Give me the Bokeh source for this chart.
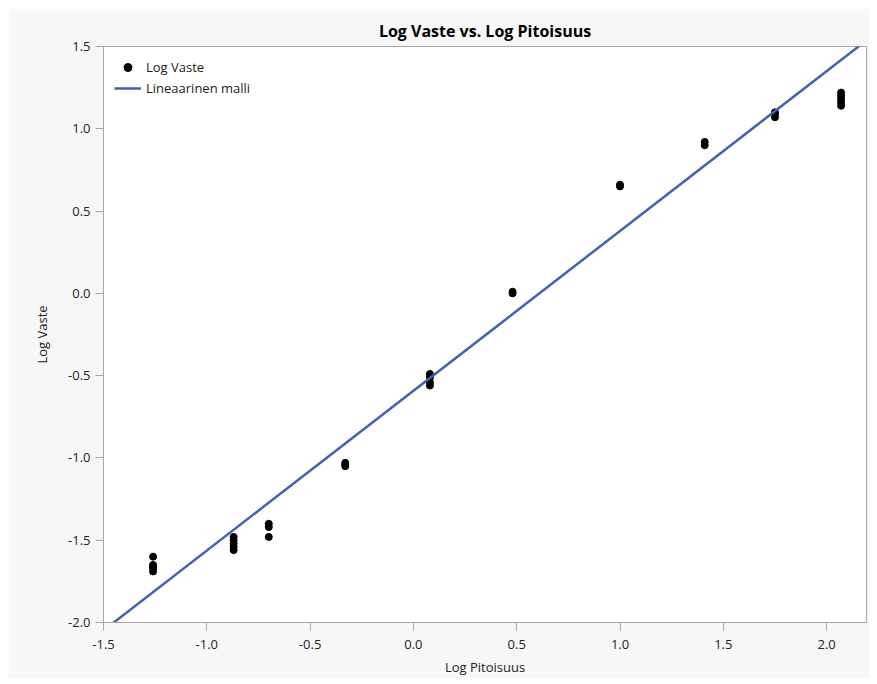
from bokeh.plotting import figure
from bokeh.models import Range1d, FixedTicker, Legend, PrintfTickFormatter
from bokeh.embed import file_html
from bokeh.resources import INLINE

# Data
log_pitoisuus = [-1.26, -1.26, -1.26, -1.26, -1.26,
                 -0.87, -0.87, -0.87, -0.87, -0.87,
                 -0.70, -0.70, -0.70,
                 -0.33, -0.33, -0.33,
                 0.08, 0.08, 0.08, 0.08,
                 0.48, 0.48,
                 1.00, 1.00,
                 1.41, 1.41,
                 1.75, 1.75, 1.75,
                 2.07, 2.07, 2.07, 2.07, 2.07]
log_vaste = [-1.60, -1.65, -1.66, -1.67, -1.69,
             -1.48, -1.50, -1.52, -1.54, -1.56,
             -1.40, -1.42, -1.48,
             -1.03, -1.04, -1.05,
             -0.49, -0.51, -0.54, -0.56,
             0.00, 0.01,
             0.65, 0.66,
             0.90, 0.92,
             1.07, 1.09, 1.10,
             1.14, 1.16, 1.18, 1.20, 1.22]
fit_intercept = -0.592
fit_slope = 0.971
fit_x = [-1.5, 2.2]
fit_y = [fit_intercept + fit_slope * x for x in fit_x]

x_ticks = [-1.5, -1.0, -0.5, 0.0, 0.5, 1.0, 1.5, 2.0]
y_ticks = [-2.0, -1.5, -1.0, -0.5, 0.0, 0.5, 1.0, 1.5]

FONT = "Open Sans"

p = figure(width=861, height=670, output_backend="svg", toolbar_location=None,
           x_range=Range1d(-1.5, 2.193), y_range=Range1d(-2.0, 1.5),
           title="Log Vaste vs. Log Pitoisuus",
           min_border_left=95, min_border_right=3, min_border_top=38, min_border_bottom=53)
p.margin = (8, 0, 0, 8)

p.border_fill_color = "#f7f7f7"
p.background_fill_color = "white"
p.outline_line_color = "#a8a8a8"
p.outline_line_width = 1

p.title.align = "center"
p.title.text_font = FONT
p.title.text_font_size = "16px"
p.title.text_font_style = "bold"
p.title.text_color = "#000000"

p.xgrid.visible = False
p.ygrid.visible = False

for ax, ticks, label in ((p.xaxis[0], x_ticks, "Log Pitoisuus"), (p.yaxis[0], y_ticks, "Log Vaste")):
    ax.ticker = FixedTicker(ticks=ticks)
    ax.formatter = PrintfTickFormatter(format="%.1f")
    ax.axis_label = label
    ax.axis_label_text_font = FONT
    ax.axis_label_text_font_size = "13px"
    ax.axis_label_text_font_style = "normal"
    ax.axis_label_text_color = "#222222"
    ax.major_label_text_font = FONT
    ax.major_label_text_font_size = "13px"
    ax.major_label_text_color = "#222222"
    ax.axis_line_color = "#a8a8a8"
    ax.major_tick_line_color = "#a8a8a8"
    ax.major_tick_out = 8
    ax.major_tick_in = 0
    ax.minor_tick_line_color = None

p.xaxis[0].major_label_standoff = 9
p.xaxis[0].axis_label_standoff = 6
p.yaxis[0].axis_label_standoff = 14

r_pts = p.scatter(log_pitoisuus, log_vaste, size=7, color="black", marker="circle")
r_line = p.line(fit_x, fit_y, line_color="#4363b0", line_width=2.5)

legend = Legend(items=[("Log Vaste", [r_pts]), ("Lineaarinen malli", [r_line])],
                location="top_left")
legend.background_fill_alpha = 0
legend.border_line_color = None
legend.margin = 11
legend.padding = 4
legend.spacing = 1
legend.glyph_width = 27
legend.label_standoff = 5
legend.label_text_font = FONT
legend.label_text_font_size = "13px"
legend.label_text_color = "#222222"
p.add_layout(legend)

open("out.html", "w").write(file_html(p, INLINE))
